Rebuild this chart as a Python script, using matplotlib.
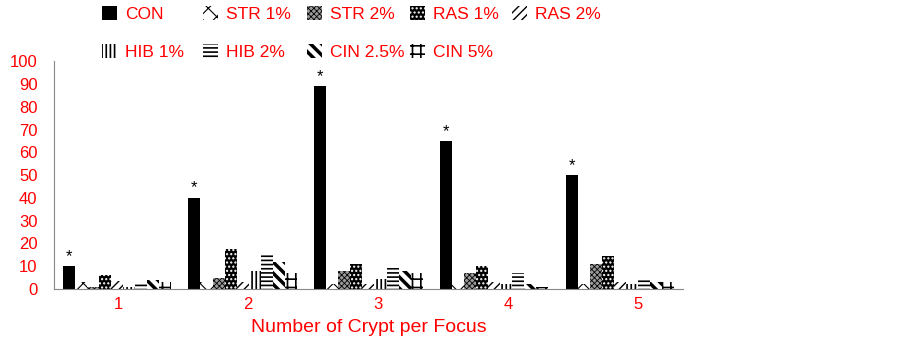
import numpy as np
from matplotlib import pyplot as plt

plt.rcParams['font.family'] = ['Liberation Sans', 'DejaVu Sans']

groups = ['1', '2', '3', '4', '5']
series = ['CON', 'STR 1%', 'STR 2%', 'RAS 1%', 'RAS 2%',
          'HIB 1%', 'HIB 2%', 'CIN 2.5%', 'CIN 5%']
values = {
    'CON':      [10, 40, 89, 65, 50],
    'STR 1%':   [3, 3, 2, 2, 2],
    'STR 2%':   [1, 5, 8, 7, 11],
    'RAS 1%':   [6, 17.5, 11, 10, 14.5],
    'RAS 2%':   [3.5, 3, 2, 3, 3],
    'HIB 1%':   [1, 8, 4.5, 2, 2],
    'HIB 2%':   [2.5, 16, 9, 7, 4.5],
    'CIN 2.5%': [4, 12, 8, 2, 3],
    'CIN 5%':   [3, 7, 7, 1, 3],
}
# face, hatch colour, hatch, hatch line width
styles = {
    'CON':      ('black', 'black', None, 1.0),
    'STR 1%':   ('white', 'black', 'xx', 0.8),
    'STR 2%':   ('#9a9a9a', 'black', 'xxxxxx', 0.6),
    'RAS 1%':   ('black', 'white', '....', 1.0),
    'RAS 2%':   ('white', 'black', '////', 1.0),
    'HIB 1%':   ('white', 'black', '||||', 1.2),
    'HIB 2%':   ('white', 'black', '----', 1.2),
    'CIN 2.5%': ('white', 'black', '\\\\\\', 2.5),
    'CIN 5%':   ('white', 'black', '++', 1.2),
}

fig = plt.figure(figsize=(9.03, 3.4), dpi=100)
ax = fig.add_axes([0.06, 0.15, 0.696, 0.67])

red = '#ff0000'
x = np.arange(len(groups))
w = 0.096
handles = {}
for i, s in enumerate(series):
    fc, hc, h, hlw = styles[s]
    pos = x - 4 * w + i * w
    with plt.rc_context({'hatch.linewidth': hlw}):
        b = ax.bar(pos, values[s], w, color=fc, edgecolor=hc, hatch=h,
                   linewidth=0, label=s)
    handles[s] = b
    if s == 'CON':
        for px, v in zip(pos, values[s]):
            ax.text(px, v + 1, '*', ha='center', va='bottom', fontsize=12)

ax.set_xlim(-0.5, len(groups) - 0.5)
ax.set_ylim(0, 100)
ax.set_yticks(range(0, 101, 10))
# category labels in the source sit on a slightly wider pitch than the bar groups
ax.set_xticks(x * 1.034 + 0.01)
ax.set_xticklabels(groups)
ax.tick_params(length=0, labelsize=12, colors=red, pad=6)
ax.tick_params(axis='y', pad=12)
for sp in ['top', 'right']:
    ax.spines[sp].set_visible(False)
for sp in ['left', 'bottom']:
    ax.spines[sp].set_color('#888888')
ax.set_xlabel('Number of Crypt per Focus', color=red, fontsize=14, labelpad=5)

# legend laid out on a fixed grid, two rows
cols = [102, 203, 307, 410, 512]
rows = [14, 52]
for k, s in enumerate(series):
    r, c = divmod(k, 5)
    with plt.rc_context({'hatch.linewidth': styles[s][3]}):
        leg = fig.legend([handles[s]], [s], loc='center left',
                         bbox_to_anchor=(cols[c] / 903, 1 - rows[r] / 340),
                         frameon=False, fontsize=12.5, borderpad=0,
                         borderaxespad=0, handlelength=0.85, handleheight=0.85,
                         handletextpad=0.5)
    leg.get_texts()[0].set_color(red)

fig.savefig('out.png', dpi=100)
